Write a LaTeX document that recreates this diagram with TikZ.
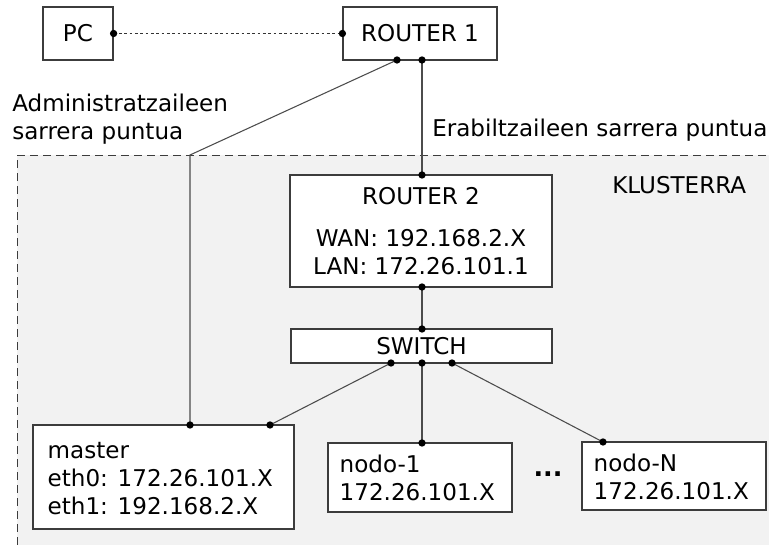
\documentclass[tikz,border=0pt]{standalone}
\usepackage{fontspec}
\setmainfont{DejaVu Sans}
\usepackage{xcolor}
\usetikzlibrary{positioning}
\definecolor{clusterbg}{HTML}{F2F2F2}
\definecolor{boxline}{HTML}{3C3C3C}

\begin{document}
\begin{tikzpicture}[
    x=0.75pt, y=-0.75pt,
    every node/.style={font=\fontsize{17.3}{21}\selectfont, inner sep=0pt},
    box/.style={
        draw=boxline,
        line width=0.9pt,
        fill=white,
        rectangle
    },
    boxtext/.style={align=left},
    wire/.style={draw=black!70, line width=0.8pt},
    port/.style={fill=black, circle, inner sep=0pt, minimum size=5.5pt}
]

% Background area of the cluster
\useasboundingbox (0,0) rectangle (769,545);
\fill[clusterbg] (17,155) rectangle (769,545);
\draw[boxline, line width=0.7pt, dash pattern=on 6pt off 3.75pt] (17,545) -- (17,155) -- (769,155);

% Boxes
\node[box, minimum width=52.5pt, minimum height=39.75pt] (pc) at (78,33.5) {PC};
\node[box, minimum width=115.5pt, minimum height=39.75pt] (router1) at (420,33.5) {ROUTER 1};
\node[box, minimum width=196.5pt, minimum height=84pt, align=center] (router2) at (421,231)
    {ROUTER 2\\[11pt]WAN: 192.168.2.X\\LAN: 172.26.101.1};
\node[box, minimum width=195.75pt, minimum height=25.5pt] (switch) at (421.5,346) {SWITCH};
\node[box, minimum width=195.75pt, minimum height=78pt] (master) at (163.5,477) {};
\node[box, minimum width=138pt, minimum height=51.75pt] (nodo1) at (420,477.5) {};
\node[box, minimum width=138pt, minimum height=51pt] (nodoN) at (674,476) {};

% Texts of the left aligned boxes
\node[boxtext, right=11.25pt of master.west, yshift=-1.5pt] (mastertxt)
    {master\\eth0: 172.26.101.X\\eth1: 192.168.2.X};
\node[boxtext, right=9pt of nodo1.west, yshift=-0.5pt] (nodo1txt) {nodo-1\\172.26.101.X};
\node[boxtext, right=9pt of nodoN.west, yshift=-0.5pt] (nodoNtxt) {nodo-N\\172.26.101.X};
\node[anchor=base, font=\fontsize{19}{21}\selectfont\bfseries] (dots) at (548,477) {...};

% Labels
\node[anchor=west, align=left] (adminlbl) at (12,119) {Administratzaileen\\sarrera puntua};
\node[anchor=west] (userlbl) at (432,130) {Erabiltzaileen sarrera puntua};
\node[anchor=west] (clusterlbl) at (612,185) {KLUSTERRA};

% Ports
\coordinate (r1a) at (397,60);
\coordinate (r1b) at (422,60);
\coordinate (bend) at (190,155);
\coordinate (r2t) at (422,175);
\coordinate (r2b) at (422,287);
\coordinate (swt) at (422,329);
\coordinate (swa) at (391,363);
\coordinate (swb) at (422,363);
\coordinate (swc) at (452,363);
\coordinate (maa) at (190,425);
\coordinate (mab) at (270,425);
\coordinate (n1t) at (422,443);
\coordinate (nNt) at (603,442);

% Connections
\draw[black!80, line width=0.8pt, dash pattern=on 2pt off 2pt] (pc.east) -- (router1.west);
\draw[wire] (r1a) -- (bend) -- (maa);
\draw[wire] (r1b) -- (r2t);
\draw[wire] (r2b) -- (swt);
\draw[wire] (swa) -- (mab);
\draw[wire] (swb) -- (n1t);
\draw[wire] (swc) -- (nNt);

\foreach \p in {pc.east, router1.west, r1a, r1b, r2t, r2b, swt, swa, swb, swc, maa, mab, n1t, nNt}
    \node[port] at (\p) {};

\end{tikzpicture}
\end{document}
